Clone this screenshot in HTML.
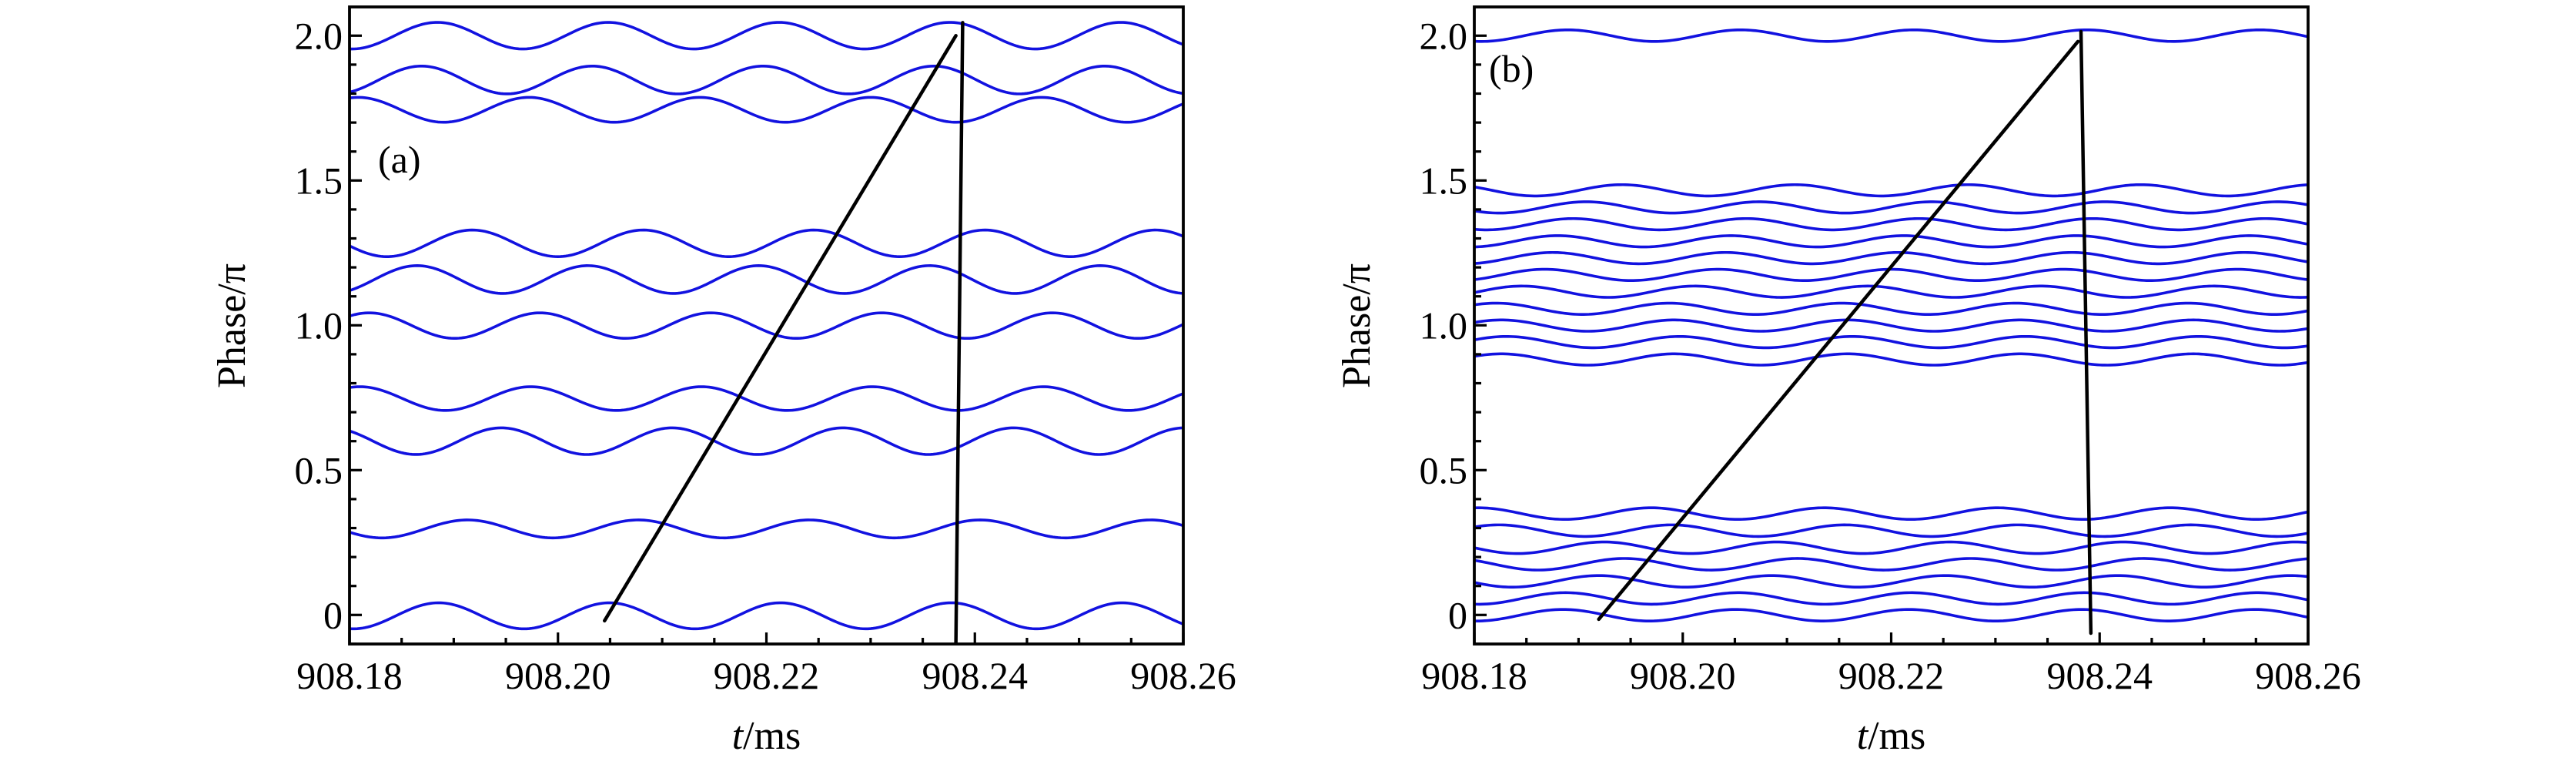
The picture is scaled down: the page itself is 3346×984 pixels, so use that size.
<!DOCTYPE html>
<html><head><meta charset="utf-8"><style>
html,body{margin:0;padding:0;background:#fff;}
svg{display:block;}
text{font-family:"Liberation Serif",serif;fill:#000;}
</style></head><body>
<svg id="fig" width="3346" height="984" viewBox="0 0 3346 984" xmlns="http://www.w3.org/2000/svg"></svg>
<script>
// ---- data (t in ms, phase in units of pi) ----
const xTicks = [908.18, 908.20, 908.22, 908.24, 908.26];
const xTickLabels = ["908.18", "908.20", "908.22", "908.24", "908.26"];
const yTicks = [0, 0.5, 1.0, 1.5, 2.0];
const yTickLabels = ["0", "0.5", "1.0", "1.5", "2.0"];

const aPeriod = 0.01639;
const aCenters = [2.0, 1.847, 1.744, 1.283, 1.158, 0.999, 0.747, 0.600, 0.297, -0.003];
const aAmps = [0.046, 0.048, 0.043, 0.046, 0.048, 0.044, 0.041, 0.046, 0.031, 0.045];
const aPeaks = [908.18843, 908.18690, 908.18083, 908.19179, 908.18648, 908.18189, 908.18100, 908.19456, 908.19132, 908.18855];
const aRampT = [908.20447, 908.23818];
const aRampY = [-0.020, 2.0];
const aDropT = [908.23883, 908.23818];
const aDropY = [2.045, -0.1];

const bPeriod = 0.0166;
const bCenters = [2.0, 1.466, 1.407, 1.349, 1.290, 1.232, 1.174, 1.116, 1.057, 0.999, 0.942, 0.882, 0.350, 0.291, 0.232, 0.175, 0.116, 0.057, -0.001];
const bAmps = [0.020, 0.0195, 0.0195, 0.0195, 0.0195, 0.0195, 0.0195, 0.0195, 0.0195, 0.0195, 0.0195, 0.0195, 0.020, 0.020, 0.020, 0.020, 0.020, 0.020, 0.020];
const bPeaks = [908.18897, 908.19416, 908.19071, 908.18948, 908.18800, 908.18751, 908.18677, 908.18456, 908.18209, 908.18259, 908.18308, 908.18259, 908.18037, 908.18234, 908.19244, 908.19440, 908.19194, 908.18874, 908.18850];
const bRampT = [908.19194, 908.23792];
const bRampY = [-0.015, 1.98];
const bDropT = [908.23821, 908.23916];
const bDropY = [2.014, -0.063];

const NS = "http://www.w3.org/2000/svg";
const svg = document.getElementById("fig");
function mk(tag, attrs, parent) {
  const e = document.createElementNS(NS, tag);
  for (const k in attrs) e.setAttribute(k, attrs[k]);
  (parent || svg).appendChild(e);
  return e;
}

function drawPanel(id, x0, label, period, centers, amps, peaks, rampT, rampY, dropT, dropY, labelX, labelY) {
  const x1 = x0 + 1083, yTop = 9, yBot = 836;
  const tMin = 908.18, tMax = 908.26;
  const sx = t => x0 + (t - tMin) / (tMax - tMin) * (x1 - x0);
  const sy = v => 798.3 - 376 * v;
  const g = mk("g", {});
  
  
  const defs = mk("defs", {}, g);
  const cp = mk("clipPath", {id: "clip-" + id}, defs);
  mk("rect", {x: x0, y: yTop, width: x1 - x0, height: yBot - yTop}, cp);

  const series = mk("g", {"clip-path": "url(#clip-" + id + ")"}, g);
  
  
  for (let i = 0; i < centers.length; i++) {
    let d = "";
    const N = 320;
    for (let k = 0; k <= N; k++) {
      const t = tMin + (tMax - tMin) * k / N;
      const v = centers[i] + amps[i] * Math.cos(2 * Math.PI * (t - peaks[i]) / period);
      d += (k ? "L" : "M") + sx(t).toFixed(2) + "," + sy(v).toFixed(2);
    }
    const p = mk("path", {d: d, fill: "none", stroke: "#1212e0", "stroke-width": 3.6}, series);
    
    
  }
  const ramp = mk("path", {d: "M" + sx(rampT[0]) + "," + sy(rampY[0]) + "L" + sx(rampT[1]) + "," + sy(rampY[1]), stroke: "#000", "stroke-width": 4.5, fill: "none", "stroke-linecap": "round"}, series);
  
  
  const drop = mk("path", {d: "M" + sx(dropT[0]) + "," + sy(dropY[0]) + "L" + sx(dropT[1]) + "," + sy(dropY[1]), stroke: "#000", "stroke-width": 4.5, fill: "none", "stroke-linecap": "round"}, series);
  
  

  const ticks = mk("g", {stroke: "#000", "stroke-width": 3.2}, g);
  
  
  for (let k = 0; k <= 16; k++) {
    const t = tMin + k * 0.005;
    const len = (k % 4 === 0) ? 15 : 8;
    mk("line", {x1: sx(t), x2: sx(t), y1: yBot, y2: yBot - len}, ticks);
  }
  for (let k = -1; k <= 21; k++) {
    const v = k * 0.1;
    const y = sy(v);
    if (y < yTop || y > yBot) continue;
    const len = (k % 5 === 0) ? 16 : 9;
    mk("line", {x1: x0, x2: x0 + len, y1: y, y2: y}, ticks);
  }
  const frame = mk("rect", {x: x0, y: yTop, width: x1 - x0, height: yBot - yTop, fill: "none", stroke: "#000", "stroke-width": 3.8}, g);
  
  

  for (let i = 0; i < xTicks.length; i++) {
    const tx = mk("text", {x: sx(xTicks[i]), y: 894, "font-size": 50, "text-anchor": "middle"}, g);
    tx.textContent = xTickLabels[i];
    
    
  }
  for (let i = 0; i < yTicks.length; i++) {
    const ty = mk("text", {x: x0 - 9, y: sy(yTicks[i]) + 17, "font-size": 50, "text-anchor": "end"}, g);
    ty.textContent = yTickLabels[i];
    
    
  }
  const xt = mk("text", {x: (x0 + x1) / 2, y: 972, "font-size": 52, "text-anchor": "middle"}, g);
  xt.innerHTML = '<tspan font-style="italic">t</tspan>/ms';
  
  
  const yt = mk("text", {x: 0, y: 0, "font-size": 52, "text-anchor": "middle", transform: "translate(" + (x0 - 136) + ",423) rotate(-90)"}, g);
  yt.textContent = "Phase/π";
  
  
  const pl = mk("text", {x: labelX, y: labelY, "font-size": 50}, g);
  pl.textContent = label;
  
  
}

drawPanel("a", 454, "(a)", aPeriod, aCenters, aAmps, aPeaks, aRampT, aRampY, aDropT, aDropY, 491, 224);
drawPanel("b", 1915, "(b)", bPeriod, bCenters, bAmps, bPeaks, bRampT, bRampY, bDropT, bDropY, 1934, 106);
</script>
</body></html>
